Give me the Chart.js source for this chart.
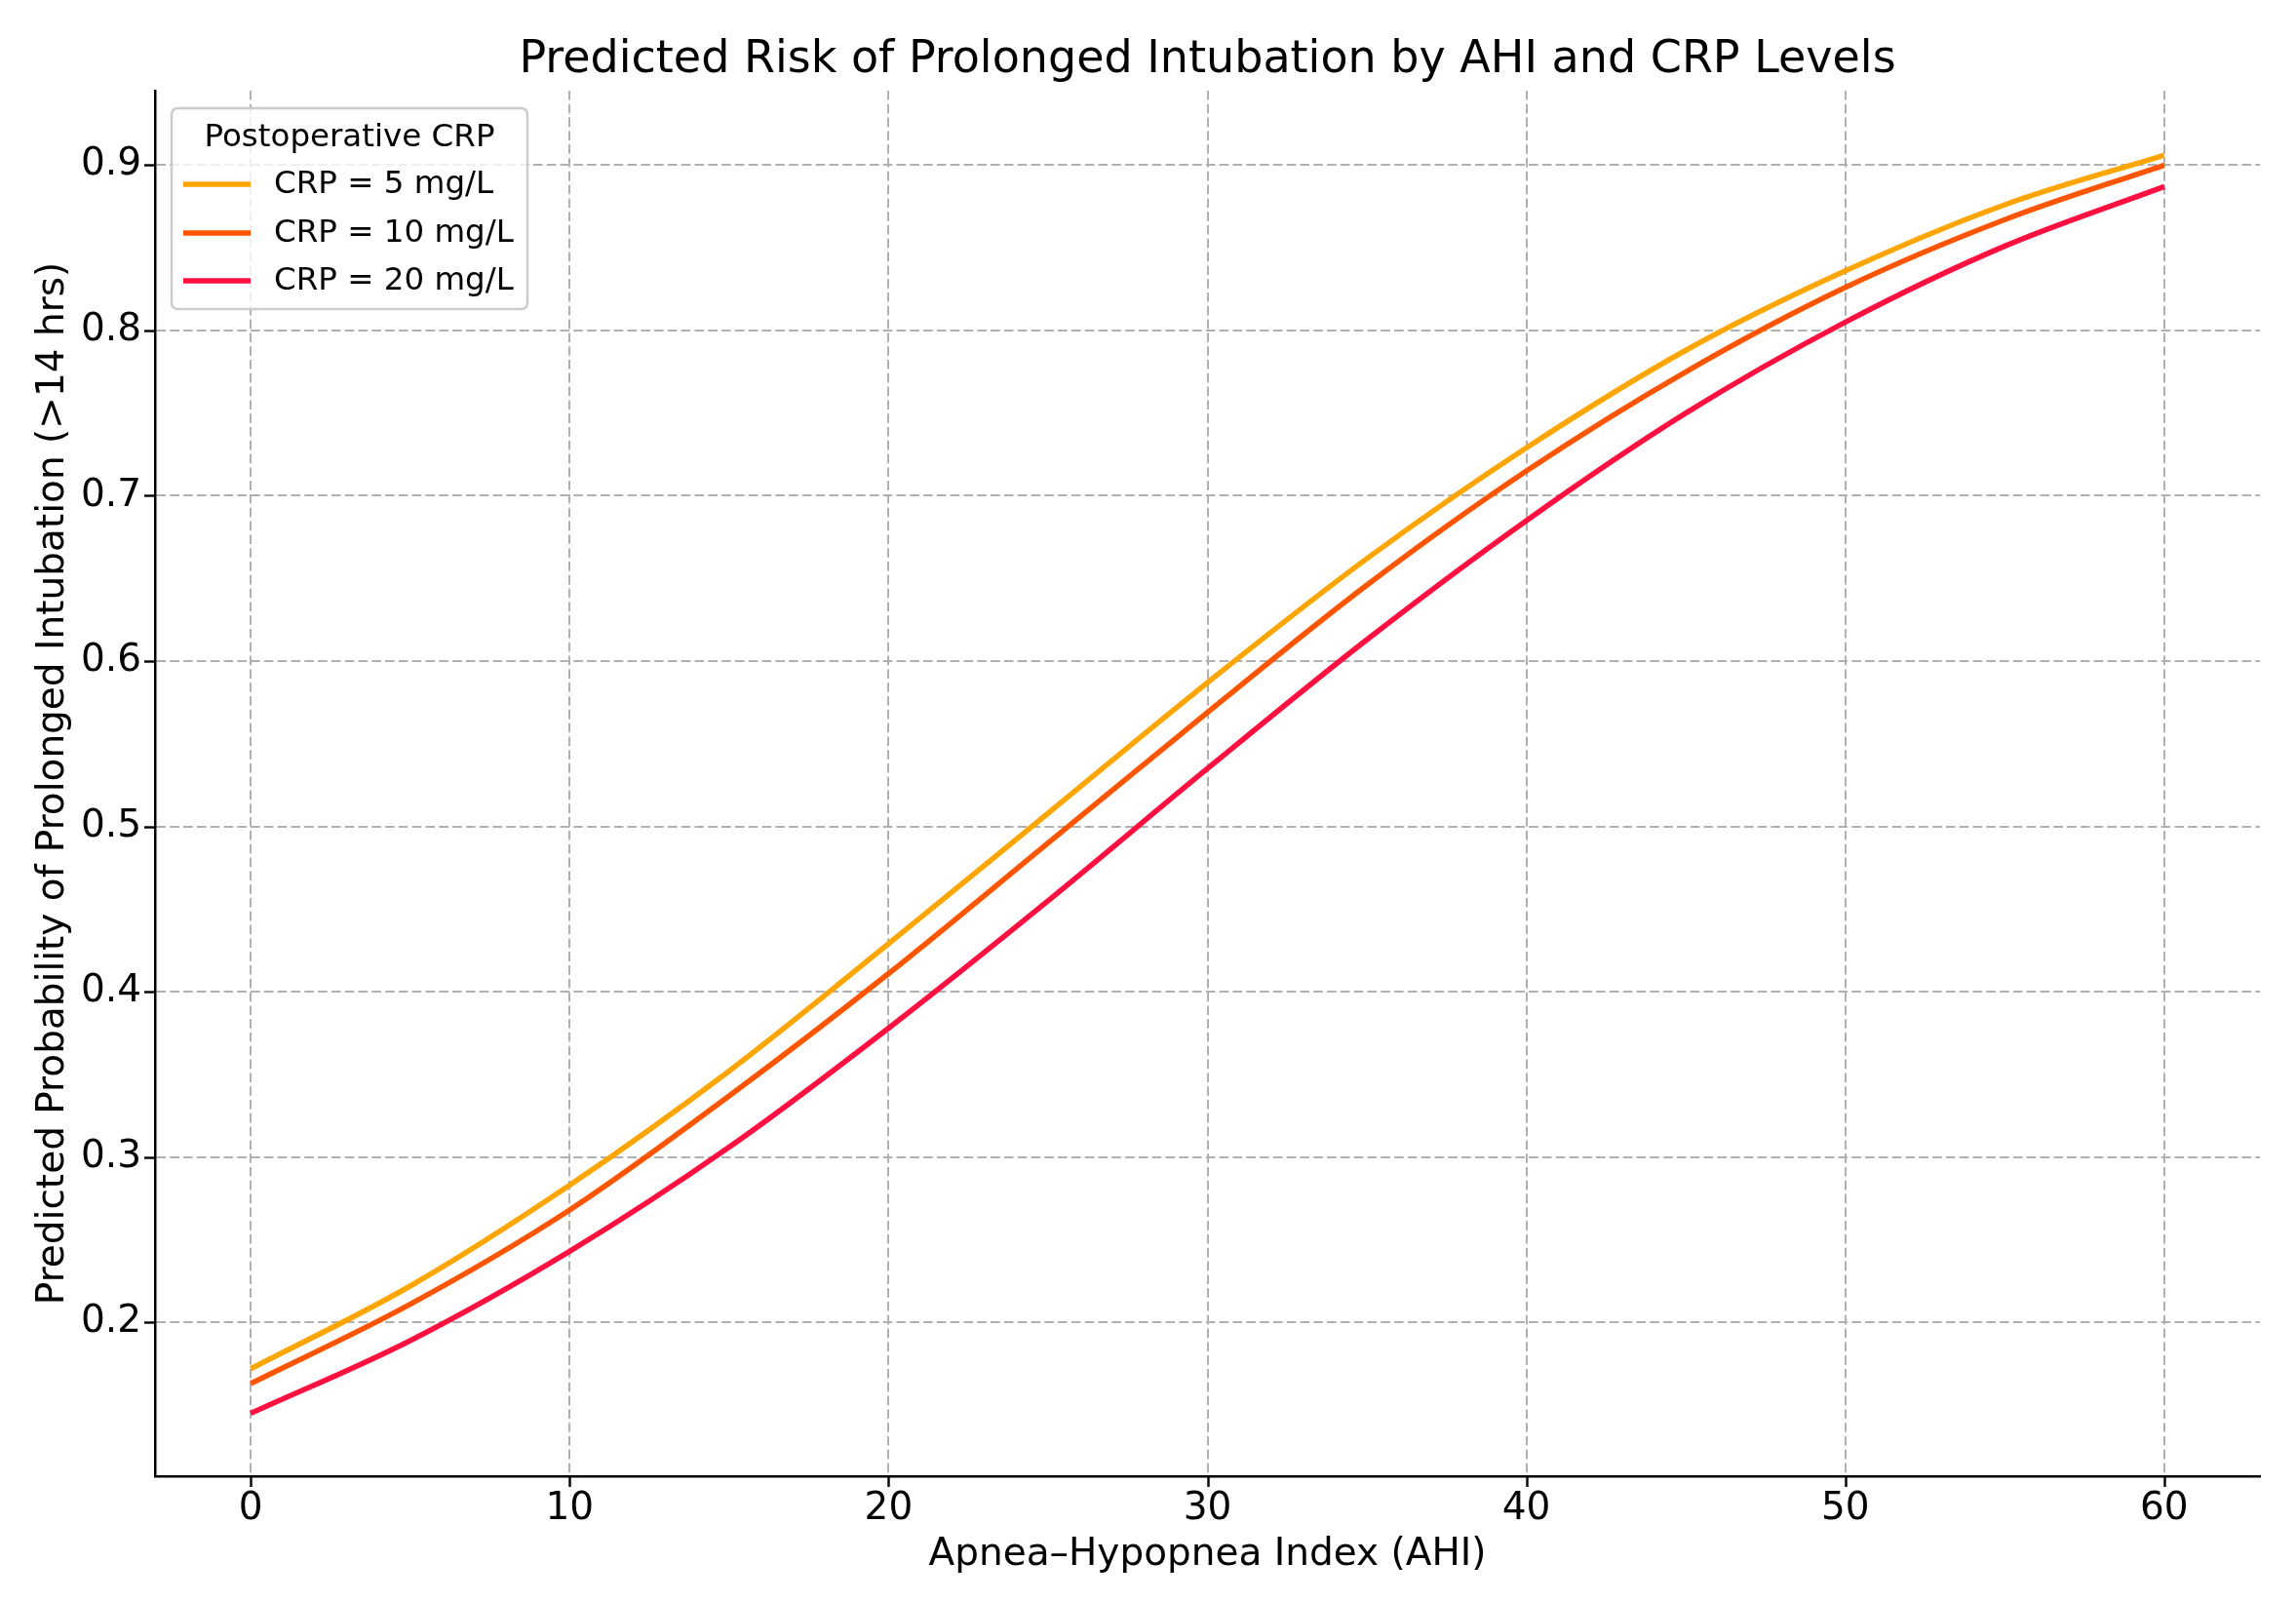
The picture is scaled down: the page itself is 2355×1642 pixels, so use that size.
<!DOCTYPE html>
<html>
<head>
<meta charset="utf-8">
<script src="https://cdn.jsdelivr.net/npm/chart.js@4"></script>
<style>
html,body{margin:0;padding:0;background:#fff;}
#wrap{width:2355px;height:1642px;position:relative;}
</style>
</head>
<body>
<div id="wrap"><canvas id="c" width="2355" height="1642"></canvas></div>
<script>
const chartTitle = "Predicted Risk of Prolonged Intubation by AHI and CRP Levels";
const xTitle = "Apnea\u2013Hypopnea Index (AHI)";
const yTitle = "Predicted Probability of Prolonged Intubation (>14 hrs)";
const legendTitle = "Postoperative CRP";

const ahi = [0, 5, 10, 15, 20, 25, 30, 35, 40, 45, 50, 55, 60];
const crp5  = [0.172, 0.222, 0.283, 0.352, 0.429, 0.508, 0.587, 0.662, 0.729, 0.788, 0.836, 0.876, 0.906];
const crp10 = [0.163, 0.211, 0.268, 0.337, 0.411, 0.490, 0.569, 0.646, 0.715, 0.775, 0.826, 0.867, 0.900];
const crp20 = [0.145, 0.189, 0.243, 0.306, 0.378, 0.455, 0.535, 0.613, 0.685, 0.750, 0.805, 0.851, 0.887];
const seriesLabels = ["CRP = 5 mg/L", "CRP = 10 mg/L", "CRP = 20 mg/L"];
const seriesColors = ["#FFA500", "#FF5500", "#FF1040"];

const xTicks = [0, 10, 20, 30, 40, 50, 60];
const yTicks = [0.2, 0.3, 0.4, 0.5, 0.6, 0.7, 0.8, 0.9];

const FONT = "'DejaVu Sans', 'Liberation Sans', sans-serif";

function pts(ys) { return ahi.map((x, i) => ({x: x, y: ys[i]})); }

const datasets = [crp5, crp10, crp20].map((ys, i) => ({
  label: seriesLabels[i],
  data: pts(ys),
  borderColor: seriesColors[i],
  backgroundColor: seriesColors[i],
  borderWidth: 5.5,
  pointRadius: 0,
  fill: false,
  cubicInterpolationMode: 'monotone'
}));

const decor = {
  id: 'decor',
  afterDraw(chart) {
    const ctx = chart.ctx;
    const area = chart.chartArea;
    const xs = chart.scales.x, ys = chart.scales.y;
    ctx.save();
    ctx.strokeStyle = '#000';
    ctx.lineWidth = 2.4;
    xTicks.forEach(v => {
      const px = Math.round(xs.getPixelForValue(v)) + 0.5;
      ctx.beginPath(); ctx.moveTo(px, area.bottom); ctx.lineTo(px, area.bottom + 11); ctx.stroke();
    });
    yTicks.forEach(v => {
      const py = Math.round(ys.getPixelForValue(v)) + 0.5;
      ctx.beginPath(); ctx.moveTo(area.left - 11, py); ctx.lineTo(area.left, py); ctx.stroke();
    });
    ctx.fillStyle = '#000';
    ctx.textAlign = 'center';
    ctx.textBaseline = 'middle';
    ctx.font = '46px ' + FONT;
    ctx.fillText(chartTitle, (area.left + area.right) / 2, 62);
    ctx.font = '39px ' + FONT;
    ctx.fillText(xTitle, (area.left + area.right) / 2, 1595);
    ctx.save();
    ctx.translate(55, (area.top + area.bottom) / 2);
    ctx.rotate(-Math.PI / 2);
    ctx.fillText(yTitle, 0, 0);
    ctx.restore();
    const bx = 176, by = 111, bw = 365, bh = 206, r = 7;
    ctx.beginPath();
    ctx.moveTo(bx + r, by);
    ctx.lineTo(bx + bw - r, by); ctx.quadraticCurveTo(bx + bw, by, bx + bw, by + r);
    ctx.lineTo(bx + bw, by + bh - r); ctx.quadraticCurveTo(bx + bw, by + bh, bx + bw - r, by + bh);
    ctx.lineTo(bx + r, by + bh); ctx.quadraticCurveTo(bx, by + bh, bx, by + bh - r);
    ctx.lineTo(bx, by + r); ctx.quadraticCurveTo(bx, by, bx + r, by);
    ctx.closePath();
    ctx.fillStyle = 'rgba(255,255,255,0.8)';
    ctx.fill();
    ctx.strokeStyle = '#cccccc';
    ctx.lineWidth = 2.5;
    ctx.stroke();
    ctx.fillStyle = '#000';
    ctx.font = '32.5px ' + FONT;
    ctx.textAlign = 'center';
    ctx.fillText(legendTitle, bx + bw / 2, 142);
    ctx.textAlign = 'left';
    const rowsY = [189, 239, 288];
    chart.data.datasets.forEach((ds, i) => {
      ctx.strokeStyle = ds.borderColor;
      ctx.lineWidth = 5.5;
      ctx.beginPath(); ctx.moveTo(188, rowsY[i]); ctx.lineTo(257, rowsY[i]); ctx.stroke();
      ctx.fillStyle = '#000';
      ctx.fillText(ds.label, 281, rowsY[i] + 1);
    });
    ctx.restore();
  }
};

new Chart(document.getElementById('c'), {
  type: 'line',
  data: { datasets: datasets },
  options: {
    responsive: false,
    animation: false,
    devicePixelRatio: 1,
    layout: { padding: { top: 93, right: 37, left: 0, bottom: 0 } },
    plugins: { legend: { display: false }, title: { display: false }, tooltip: { enabled: false } },
    scales: {
      x: {
        type: 'linear',
        min: -3, max: 63,
        afterFit(s) { s.height = 128; },
        afterBuildTicks(s) { s.ticks = xTicks.map(v => ({value: v})); },
        ticks: { color: '#000', font: { family: FONT, size: 39 }, padding: 10, maxRotation: 0, autoSkip: false,
                 callback: v => String(v) },
        grid: { color: '#b0b0b0', lineWidth: 2, drawTicks: false },
        border: { display: true, color: '#000', width: 2.5, dash: [9.6, 4.2] }
      },
      y: {
        type: 'linear',
        min: 0.107, max: 0.945,
        afterFit(s) { s.width = 159; },
        afterBuildTicks(s) { s.ticks = yTicks.map(v => ({value: v})); },
        ticks: { color: '#000', font: { family: FONT, size: 39 }, padding: 14, autoSkip: false,
                 callback: v => Number(v).toFixed(1) },
        grid: { color: '#b0b0b0', lineWidth: 2, drawTicks: false },
        border: { display: true, color: '#000', width: 2.5, dash: [9.6, 4.2] }
      }
    }
  },
  plugins: [decor]
});
</script>
</body>
</html>
